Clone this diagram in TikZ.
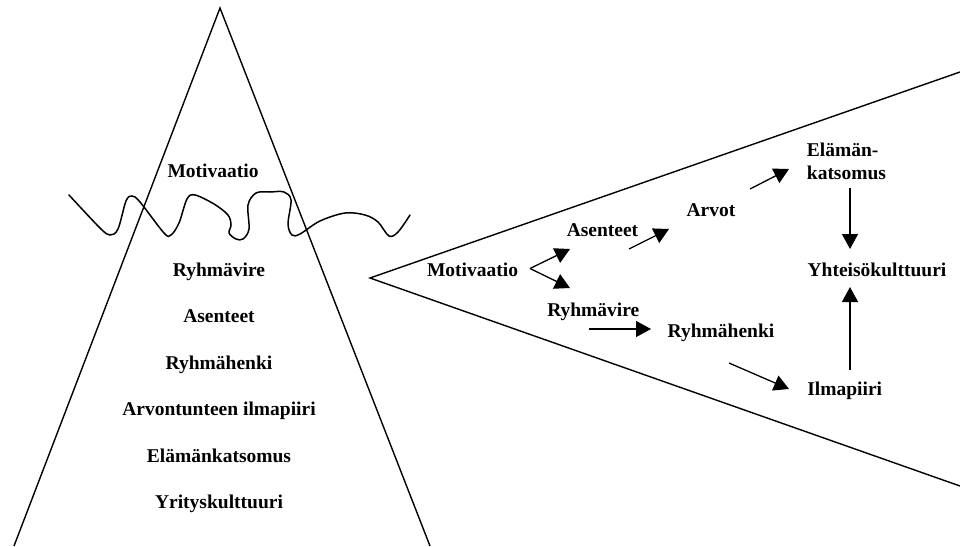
\documentclass[tikz,border=0pt]{standalone}
\usepackage{fontspec}
\setmainfont{Liberation Serif}
\usetikzlibrary{arrows.meta}
\begin{document}
\begin{tikzpicture}[x=1pt,y=-1pt,
  lbl/.style={font=\fontsize{19.5}{23}\selectfont\bfseries, inner sep=0pt, anchor=base},
  edge/.style={line width=1.4pt, line join=miter},
  link/.style={line width=1.3pt, -{Triangle[length=15pt,width=16pt]}}]
\useasboundingbox (0,0) rectangle (960,546);

% iceberg
\coordinate (top) at (220,8);
\coordinate (bl) at (14,546);
\coordinate (br) at (430,546);
\draw[edge] (bl) -- (top) -- (br);

% water line
\draw[line width=1.5pt, line cap=round] plot[smooth, tension=0.55] coordinates {
  (69,195) (100,228) (110,235) (118,229) (126,201) (132,196) (140,202)
  (164,233) (171,235) (179,223) (187,199) (195,195) (214,204) (228,215)
  (231,225) (229,233) (236,239) (243,239) (249,229) (248,205) (256,193)
  (270,192) (284,192) (291,200) (288,224) (292,235) (300,234) (320,221)
  (345,213) (365,215) (378,222) (389,236) (398,232) (410,215)};

% iceberg labels
\node[lbl] (m0) at (213,177) {Motivaatio};
\node[lbl] (l1) at (219,276) {Ryhmävire};
\node[lbl] (l2) at (219,322.5) {Asenteet};
\node[lbl] (l3) at (219,369) {Ryhmähenki};
\node[lbl] (l4) at (219,415.5) {Arvontunteen ilmapiiri};
\node[lbl] (l5) at (219,462) {Elämänkatsomus};
\node[lbl] (l6) at (219,508.5) {Yrityskulttuuri};

% magnifying wedge
\coordinate (tip) at (370,278);
\coordinate (wt) at (960,72);
\coordinate (wb) at (960,486);
\draw[edge] (wt) -- (tip) -- (wb);

% wedge labels
\node[lbl] (mot) at (472.5,276) {Motivaatio};
\node[lbl] (ase) at (602.5,236) {Asenteet};
\node[lbl] (ryv) at (593.3,316) {Ryhmävire};
\node[lbl] (arv) at (711,216.7) {Arvot};
\node[lbl, anchor=base west] (ela1) at (806.7,156.7) {Elämän-};
\node[lbl, anchor=base west] (ela2) at (806.7,179) {katsomus};
\node[lbl] (yht) at (877,276) {Yhteisökulttuuri};
\node[lbl] (ryh) at (721,337.3) {Ryhmähenki};
\node[lbl] (ilm) at (844.7,395) {Ilmapiiri};

% connector end points
\coordinate (mo) at (530,268.5);
\coordinate (mu) at (570,249);
\coordinate (md) at (570,288);
\coordinate (rv1) at (589,329);
\coordinate (rv2) at (651,329);
\coordinate (as1) at (629,249);
\coordinate (as2) at (669,229);
\coordinate (ar1) at (750,189);
\coordinate (ar2) at (789,169);
\coordinate (el1) at (850,188);
\coordinate (el2) at (850,249);
\coordinate (il1) at (850,370);
\coordinate (il2) at (850,287);
\coordinate (rh1) at (729,363);
\coordinate (rh2) at (789,389);

\draw[link] (mo) -- (mu);
\draw[link] (mo) -- (md);
\draw[link] (rv1) -- (rv2);
\draw[link] (as1) -- (as2);
\draw[link] (ar1) -- (ar2);
\draw[link] (el1) -- (el2);
\draw[link] (il1) -- (il2);
\draw[link] (rh1) -- (rh2);
\end{tikzpicture}
\end{document}
